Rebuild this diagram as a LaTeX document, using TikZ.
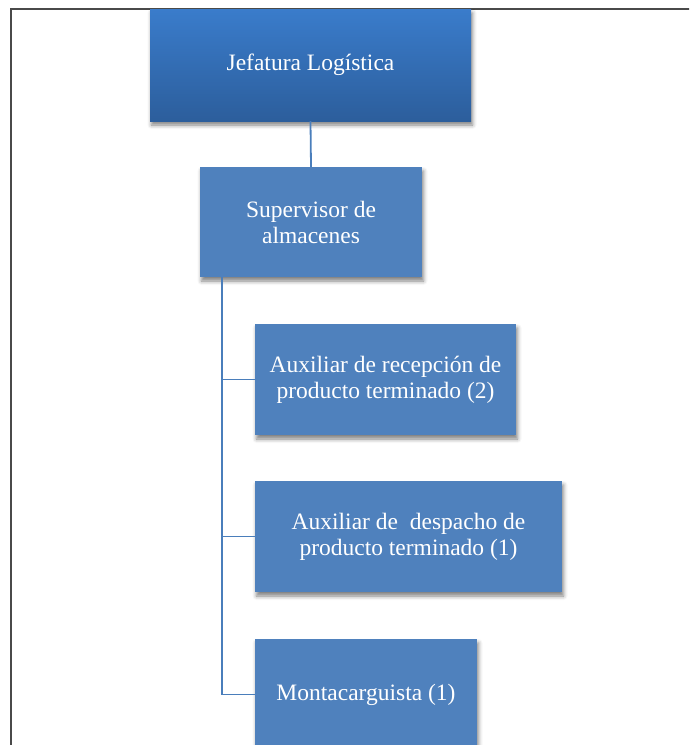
\documentclass[tikz,border=0pt]{standalone}
\usepackage{fontspec}
\setmainfont{Liberation Serif}
\newfontfamily\boxfont{Liberation Serif}
\usetikzlibrary{shadows.blur}
\definecolor{boxblue}{HTML}{4F81BD}
\definecolor{topblue}{HTML}{3A7CCB}
\definecolor{botblue}{HTML}{2C5E9C}
\definecolor{linkblue}{HTML}{4A7EBB}
\definecolor{framegray}{HTML}{4A4A4A}
\tikzset{
  orgbox/.style={rectangle, fill=boxblue, text=white, align=center,
    font=\boxfont\fontsize{23.5}{26}\selectfont, inner sep=0pt,
    blur shadow={shadow xshift=1.5pt, shadow yshift=-4pt, shadow blur radius=4pt, shadow opacity=50}},
  headbox/.style={orgbox, top color=topblue, bottom color=botblue},
  link/.style={draw=linkblue, line width=1.8pt},
}
\begin{document}
\begin{tikzpicture}[x=1pt, y=1pt]
  \useasboundingbox (0,0) rectangle (689,-745);
  \clip (0,0) rectangle (689,-745);
  % page frame
  \draw[framegray, line width=1.6pt] (11,-746) -- (11,-9) -- (690,-9);
  % boxes
  \node[headbox, minimum width=321pt, minimum height=112pt] (jef) at (310.5,-65) {Jefatura Logística};
  \node[orgbox, minimum width=222pt, minimum height=110pt] (sup) at (311,-222) {Supervisor de\\almacenes};
  \node[orgbox, minimum width=261pt, minimum height=111pt] (rec) at (385.5,-379.5) {Auxiliar de recepción de\\producto terminado (2)};
  \node[orgbox, minimum width=307pt, minimum height=111pt] (desp) at (408.5,-536.5) {Auxiliar de\ \ despacho de\\producto terminado (1)};
  \node[orgbox, minimum width=222pt, minimum height=111pt] (mont) at (366,-694.5) {Montacarguista (1)};
  % connectors
  \coordinate (trunk) at (222,-277);
  \draw[link] (jef.south) -- (sup.north);
  \draw[link] (trunk) |- (rec.west);
  \draw[link] (trunk) |- (desp.west);
  \draw[link] (trunk) |- (mont.west);
\end{tikzpicture}
\end{document}
